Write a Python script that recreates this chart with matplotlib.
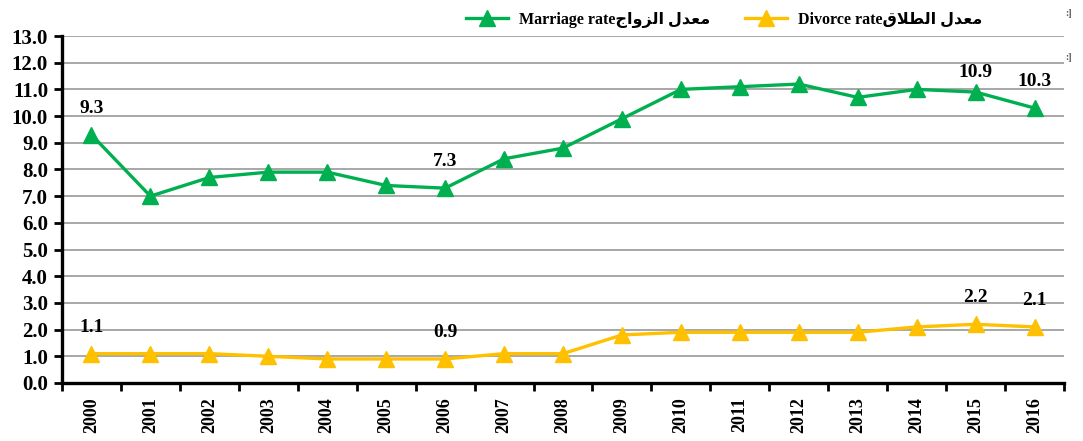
import matplotlib.pyplot as plt
import numpy as np

# data
years = ['2000', '2001', '2002', '2003', '2004', '2005', '2006', '2007', '2008',
         '2009', '2010', '2011', '2012', '2013', '2014', '2015', '2016']
marriage = [9.3, 7.0, 7.7, 7.9, 7.9, 7.4, 7.3, 8.4, 8.8, 9.9, 11.0, 11.1, 11.2, 10.7, 11.0, 10.9, 10.3]
divorce = [1.1, 1.1, 1.1, 1.0, 0.9, 0.9, 0.9, 1.1, 1.1, 1.8, 1.9, 1.9, 1.9, 1.9, 2.1, 2.2, 2.1]
marriage_labels = {0: '9.3', 6: '7.3', 15: '10.9', 16: '10.3'}
divorce_labels = {0: '1.1', 6: '0.9', 15: '2.2', 16: '2.1'}

# Arabic pre-shaped (presentation forms, visual order) since matplotlib does no shaping
ar_rate = '\uFEDD\uFEAA\uFECC\uFEE3'                      # معدل
ar_marriage = '\uFE9D\uFE8D\uFEED\uFEB0\uFEDF\uFE8D'      # الزواج
ar_divorce = '\uFED5\uFEFC\uFEC4\uFEDF\uFE8D'             # الطلاق
marriage_name = 'Marriage rate' + ar_marriage + ' ' + ar_rate
divorce_name = 'Divorce rate' + ar_divorce + ' ' + ar_rate

GREEN = '#00B050'
YELLOW = '#FFC000'
FONT = ['Liberation Serif', 'DejaVu Sans']

plt.rcParams['font.family'] = FONT
plt.rcParams['font.weight'] = 'bold'

fig = plt.figure(figsize=(10.83, 4.41), dpi=100)
ax = fig.add_axes([62 / 1083, 1 - 383 / 441, 1002 / 1083, 347 / 441])

x = np.arange(len(years))
ax.plot(x, marriage, color=GREEN, lw=2.4, marker='^', ms=11, label=marriage_name, zorder=3)
ax.plot(x, divorce, color=YELLOW, lw=2.4, marker='^', ms=11, label=divorce_name, zorder=3)

for i, t in marriage_labels.items():
    dy = 8 if i == 15 else 13
    ax.annotate(t, (x[i], marriage[i]), xytext=(0, dy), textcoords='offset points',
                ha='center', va='bottom', fontsize=14, fontweight='bold')
for i, t in divorce_labels.items():
    ax.annotate(t, (x[i], divorce[i]), xytext=(0, 13), textcoords='offset points',
                ha='center', va='bottom', fontsize=14, fontweight='bold')

ax.set_xlim(-0.5, len(years) - 0.5)
ax.set_ylim(0, 13)
ax.set_yticks(np.arange(0, 13.1, 1))
ax.set_yticklabels(['%.1f' % v for v in np.arange(0, 13.1, 1)], fontsize=15, fontweight='bold')
ax.set_xticks(x)
ax.set_xticklabels(years, rotation=90, fontsize=13, fontweight='bold')
ax.set_xticks(np.arange(-0.5, len(years), 1), minor=True)
ax.tick_params(axis='x', which='major', length=0, pad=10)
ax.tick_params(axis='x', which='minor', length=6, width=2, direction='out')
ax.tick_params(axis='y', length=6, width=2, direction='out', pad=4)

ax.grid(axis='y', color='#A0A0A0', lw=1.3, zorder=0)
ax.set_axisbelow(True)
for s in ['top', 'right']:
    ax.spines[s].set_visible(False)
for s in ['left', 'bottom']:
    ax.spines[s].set_linewidth(2.4)

leg = ax.legend(loc='lower center', bbox_to_anchor=(0.661, 1.0), ncol=2, frameon=False,
                fontsize=11.5, handlelength=2.6, handletextpad=0.7, columnspacing=2.2,
                borderaxespad=0.1)
for t in leg.get_texts():
    t.set_fontweight('bold')

# stray marks at the top right of the original
fig.text(1069 / 1083, 1 - 14 / 441, ':]', fontsize=7, color='#555555', ha='center', va='center')
fig.text(1069 / 1083, 1 - 57 / 441, ':]', fontsize=7, color='#555555', ha='center', va='center')

fig.savefig('out.png', dpi=100)
